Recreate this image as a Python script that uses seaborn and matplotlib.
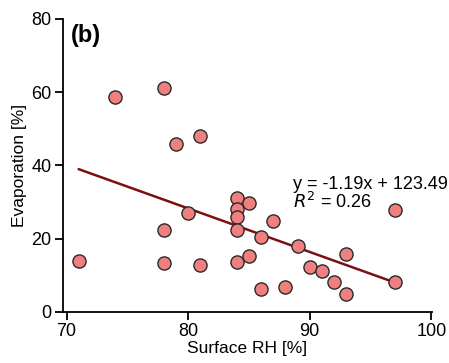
import matplotlib
matplotlib.use("Agg")
import matplotlib.pyplot as plt
import seaborn as sns
import pandas as pd
import numpy as np

surface_rh = [71, 74, 78, 78, 78, 79, 80, 81, 81, 84, 84, 84, 84, 84,
              85, 85, 86, 86, 87, 88, 89, 90, 91, 92, 93, 93, 97, 97]
evaporation = [14.0, 58.7, 61.2, 22.4, 13.4, 46.0, 27.0, 48.0, 12.8, 31.0, 28.0, 26.0, 22.3, 13.7,
               29.8, 15.2, 20.4, 6.4, 24.9, 6.9, 18.0, 12.4, 11.3, 8.3, 15.8, 4.8, 27.9, 8.1]
slope, intercept, r2 = -1.19, 123.49, 0.26
fit_x = [71, 97]

sns.set_theme(style="ticks")
plt.rcParams['font.family'] = ['Liberation Sans', 'DejaVu Sans']
plt.rcParams['text.color'] = 'black'
plt.rcParams['axes.labelcolor'] = 'black'

df = pd.DataFrame({"rh": surface_rh, "evap": evaporation})
fit = pd.DataFrame({"rh": fit_x, "evap": [slope * v + intercept for v in fit_x]})

fig = plt.figure(figsize=(4.49, 3.63), dpi=100)
ax = fig.add_axes([0.140, 0.1405, 0.822, 0.8072])

sns.lineplot(data=fit, x="rh", y="evap", ax=ax, color="#7a1010", linewidth=1.8, zorder=2)
sns.scatterplot(data=df, x="rh", y="evap", ax=ax, color="#f08080", edgecolor="#2a2a2a",
                linewidth=1.0, s=90, zorder=3)

ax.set_xlim(69.7, 100.05)
ax.set_ylim(0, 80)
ax.set_xticks([70, 80, 90, 100])
ax.set_yticks([0, 20, 40, 60, 80])
ax.set_xlabel("Surface RH [%]", fontsize=12.5, labelpad=1)
ax.set_ylabel("Evaporation [%]", fontsize=12.5, labelpad=3)
ax.tick_params(labelsize=13, width=1.3, length=6, pad=2, color="black", labelcolor="black")
for s in ["top", "right"]:
    ax.spines[s].set_visible(False)
for s in ["left", "bottom"]:
    ax.spines[s].set_linewidth(1.3)
    ax.spines[s].set_color("black")

ax.text(70.4, 75.5, "(b)", fontsize=17, fontweight="bold", va="center", ha="left")
ax.text(88.6, 37.2, f"y = {slope:.2f}x + {intercept:.2f}\n$R^2$ = {r2:.2f}",
        fontsize=13, va="top", ha="left", linespacing=0.95)

fig.savefig("out.png", dpi=100)
